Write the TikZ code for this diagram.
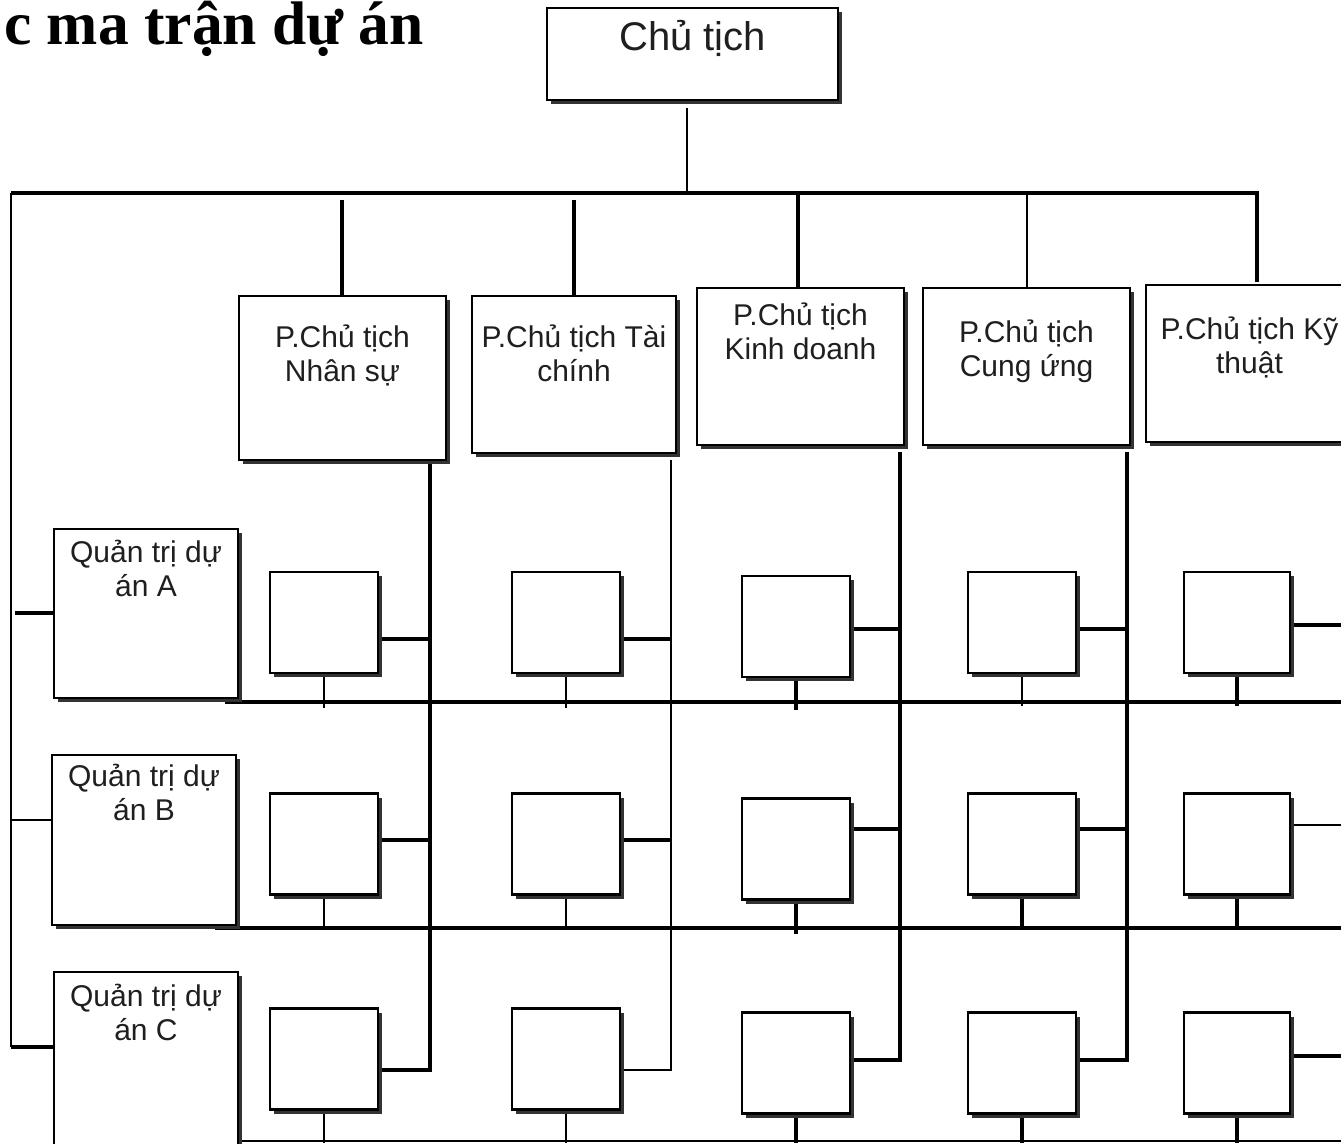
\documentclass[tikz,border=0pt]{standalone}
\usepackage{fontspec}
\setmainfont{Liberation Sans}
\newfontfamily\titlefont{Liberation Serif}
\usetikzlibrary{shadows,calc}
\tikzset{
  box/.style={draw=black, line width=2.1pt, fill=white, inner sep=0pt,
    drop shadow={shadow xshift=4pt, shadow yshift=-4pt, fill=black!80, opacity=1}},
  topbox/.style={box, minimum width=291pt, minimum height=92pt},
  vpbox/.style={box, minimum width=207pt, minimum height=157pt},
  cellbox/.style={box, minimum width=108pt, minimum height=101pt},
  pmbox/.style={box, minimum width=184pt, minimum height=170pt},
  lab/.style={inner sep=0pt, align=center, text=black!88, font=\fontsize{30}{34}\selectfont},
  labbig/.style={inner sep=0pt, align=center, text=black!88, font=\fontsize{40}{46}\selectfont},
  thickln/.style={line width=3.8pt},
  medln/.style={line width=2.8pt},
  thinln/.style={line width=2pt},
}
\begin{document}
\begin{tikzpicture}[x=1pt,y=-1pt]
\path[use as bounding box, clip] (0,0) rectangle (1341,1143);
\fill[white] (0,0) rectangle (1341,1143);

% title
\node[anchor=base east, inner sep=0pt, font=\titlefont\bfseries\fontsize{61.5}{70}\selectfont] (title) at (424,44) {c ma trận dự án};

% coordinates for lines
\coordinate (stemtop) at (687,108);
\coordinate (busmid) at (687,193);
\coordinate (busL) at (11,193);
\coordinate (busR) at (1257,193);

% ---------- connectors (drawn first, boxes on top) ----------
\draw[thinln] (stemtop) -- (busmid);
\draw[thickln, line join=miter] (busL) -- (busR) -- (1257,282);
\draw[medln] (busL) -- (11,1047);
\draw[thickln] (11,1047) -- (54,1047);
\draw[thickln] (15,613) -- (54,613);
\draw[medln] (11,820) -- (52,820);

% drops to VP boxes
\draw[thickln] (342,200) -- (342,296);
\draw[thickln] (574,200) -- (574,296);
\draw[thickln] (798,195) -- (798,288);
\draw[thinln] (1027,193) -- (1027,288);

% columns
\draw[thickln, line join=miter] (430,460) -- (430,1070) -- (378,1070);
\draw[thinln, line join=miter] (671,460) -- (671,1070) -- (620,1070);
\draw[thickln, line join=miter] (900,452) -- (900,1060) -- (850,1060);
\draw[thickln, line join=miter] (1127,452) -- (1127,1060) -- (1076,1060);

% right stubs
\draw[thickln] (378,639) -- (430,639);
\draw[thickln] (620,639) -- (671,639);
\draw[thickln] (850,629) -- (900,629);
\draw[thickln] (1076,629) -- (1127,629);
\draw[thickln] (1290,625) -- (1341,625);
\draw[thickln] (378,840) -- (430,840);
\draw[thickln] (620,840) -- (671,840);
\draw[thickln] (850,829) -- (900,829);
\draw[thickln] (1076,829) -- (1127,829);
\draw[thinln] (1290,825) -- (1341,825);
\draw[thickln] (1290,1056) -- (1341,1056);

% row buses
\draw[thickln] (225,702) -- (1341,702);
\draw[thickln] (215,928) -- (1341,928);
\draw[medln] (215,1141) -- (1341,1141);

% bottom stubs
\draw[thinln] (324,673) -- (324,708);
\draw[thinln] (566,673) -- (566,708);
\draw[thickln] (796,677) -- (796,710);
\draw[medln] (1022,673) -- (1022,706);
\draw[thickln] (1237,673) -- (1237,706);
\draw[thinln] (324,895) -- (324,930);
\draw[thinln] (566,895) -- (566,930);
\draw[thickln] (796,900) -- (796,934);
\draw[thickln] (1022,895) -- (1022,930);
\draw[thickln] (1237,895) -- (1237,930);
\draw[thinln] (324,1110) -- (324,1143);
\draw[thinln] (566,1110) -- (566,1143);
\draw[thickln] (796,1113) -- (796,1143);
\draw[thickln] (1022,1113) -- (1022,1143);
\draw[thickln] (1237,1113) -- (1237,1143);

% ---------- boxes ----------
\node[topbox, label={[labbig, anchor=north, yshift=-13pt]north:Chủ tịch}] (top) at (692.5,54) {};

\node[vpbox, minimum height=164pt, label={[lab, anchor=north, yshift=-30pt]north:P.Chủ tịch\\Nhân sự}] (v1) at (342.5,378) {};
\node[vpbox, minimum width=204pt, label={[lab, anchor=north, yshift=-30pt]north:P.Chủ tịch Tài\\chính}] (v2) at (574,374.5) {};
\node[vpbox, label={[lab, anchor=north, yshift=-16pt]north:P.Chủ tịch\\Kinh doanh}] (v3) at (800.5,366.5) {};
\node[vpbox, label={[lab, anchor=north, yshift=-33pt]north:P.Chủ tịch\\Cung ứng}] (v4) at (1026.5,366.5) {};
\node[vpbox, label={[lab, anchor=north, yshift=-33pt]north:P.Chủ tịch Kỹ\\thuật}] (v5) at (1249.5,363.5) {};

\node[pmbox, minimum height=169pt, label={[lab, anchor=north, yshift=-12pt]north:Quản trị dự\\án A}] (pa) at (146,613.5) {};
\node[pmbox, label={[lab, anchor=north, yshift=-10pt]north:Quản trị dự\\án B}] (pb) at (144,840) {};
\node[pmbox, minimum height=190pt, label={[lab, anchor=north, yshift=-13pt]north:Quản trị dự\\án C}] (pc) at (146,1067) {};

% cells row A
\node[cellbox] (c11) at (324,622.5) {};
\node[cellbox] (c12) at (566,622.5) {};
\node[cellbox] (c13) at (796,626.5) {};
\node[cellbox] (c14) at (1022,622.5) {};
\node[cellbox, minimum width=106pt] (c15) at (1237,622.5) {};
% row B
\node[cellbox] (c21) at (324,844) {};
\node[cellbox] (c22) at (566,844) {};
\node[cellbox] (c23) at (796,849) {};
\node[cellbox] (c24) at (1022,844) {};
\node[cellbox, minimum width=106pt] (c25) at (1237,844) {};
% row C
\node[cellbox] (c31) at (324,1059) {};
\node[cellbox] (c32) at (566,1059) {};
\node[cellbox] (c33) at (796,1063) {};
\node[cellbox] (c34) at (1022,1063) {};
\node[cellbox, minimum width=106pt] (c35) at (1237,1063) {};
\end{tikzpicture}
\end{document}
